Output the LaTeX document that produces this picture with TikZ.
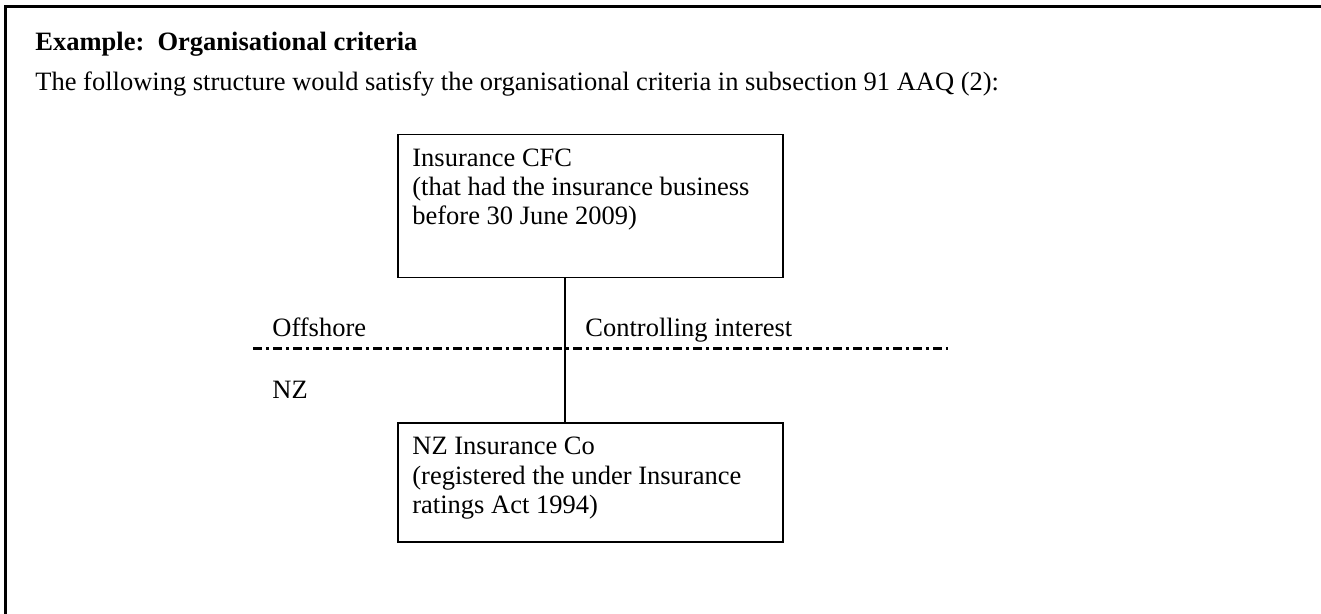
\documentclass[tikz,border=0pt]{standalone}
\usepackage{fontspec}
\setmainfont{Liberation Serif}
\begin{document}
\begin{tikzpicture}[x=0.5pt,y=-0.5pt,
  txt/.style={inner sep=0pt, font=\fontsize{13.25pt}{14.6pt}\selectfont},
  boxtxt/.style={txt, anchor=north west, align=left},
  entity/.style={draw, line width=0.75pt, minimum width=192.5pt, anchor=north west, inner sep=0pt},
  link/.style={line width=0.75pt},
  border/.style={draw, line width=1.5pt},
  divider/.style={line width=1.5pt, dash pattern=on 4.5pt off 2pt on 1.5pt off 2pt}]
\useasboundingbox (0,0) rectangle (1321,614);
\coordinate (fb) at (5,614);
\coordinate (fc) at (5,7);
\coordinate (fr) at (1321,7);
\draw[border] (fb) -- (fc) -- (fr);
\node[txt, anchor=base west, font=\fontsize{13.25pt}{14.6pt}\selectfont\bfseries] (title) at (35,51) {Example:\ \ Organisational criteria};
\node[txt, anchor=base west] (intro) at (35,91) {The following structure would satisfy the organisational criteria in subsection 91 AAQ (2):};
\node[entity, minimum height=71.5pt] (cfc) at (397,134) {};
\node[boxtxt] (cfct) at (412,148.5) {Insurance CFC\\(that had the insurance business\\before 30 June 2009)};
\node[entity, minimum height=59.5pt] (nzco) at (397,422) {};
\node[boxtxt] (nzcot) at (412,437) {NZ Insurance Co\\(registered the under Insurance\\ratings Act 1994)};
\draw[link] (cfc.south -| 565,0) -- (nzco.north -| 565,0);
\coordinate (dl) at (253,349);
\coordinate (dr) at (948,349);
\draw[divider] (dl) -- (dr);
\node[txt, anchor=base west] (off) at (272,336) {Offshore};
\node[txt, anchor=base west] (nz) at (272,398) {NZ};
\node[txt, anchor=base west] (ctrl) at (585,336) {Controlling interest};
\end{tikzpicture}
\end{document}
